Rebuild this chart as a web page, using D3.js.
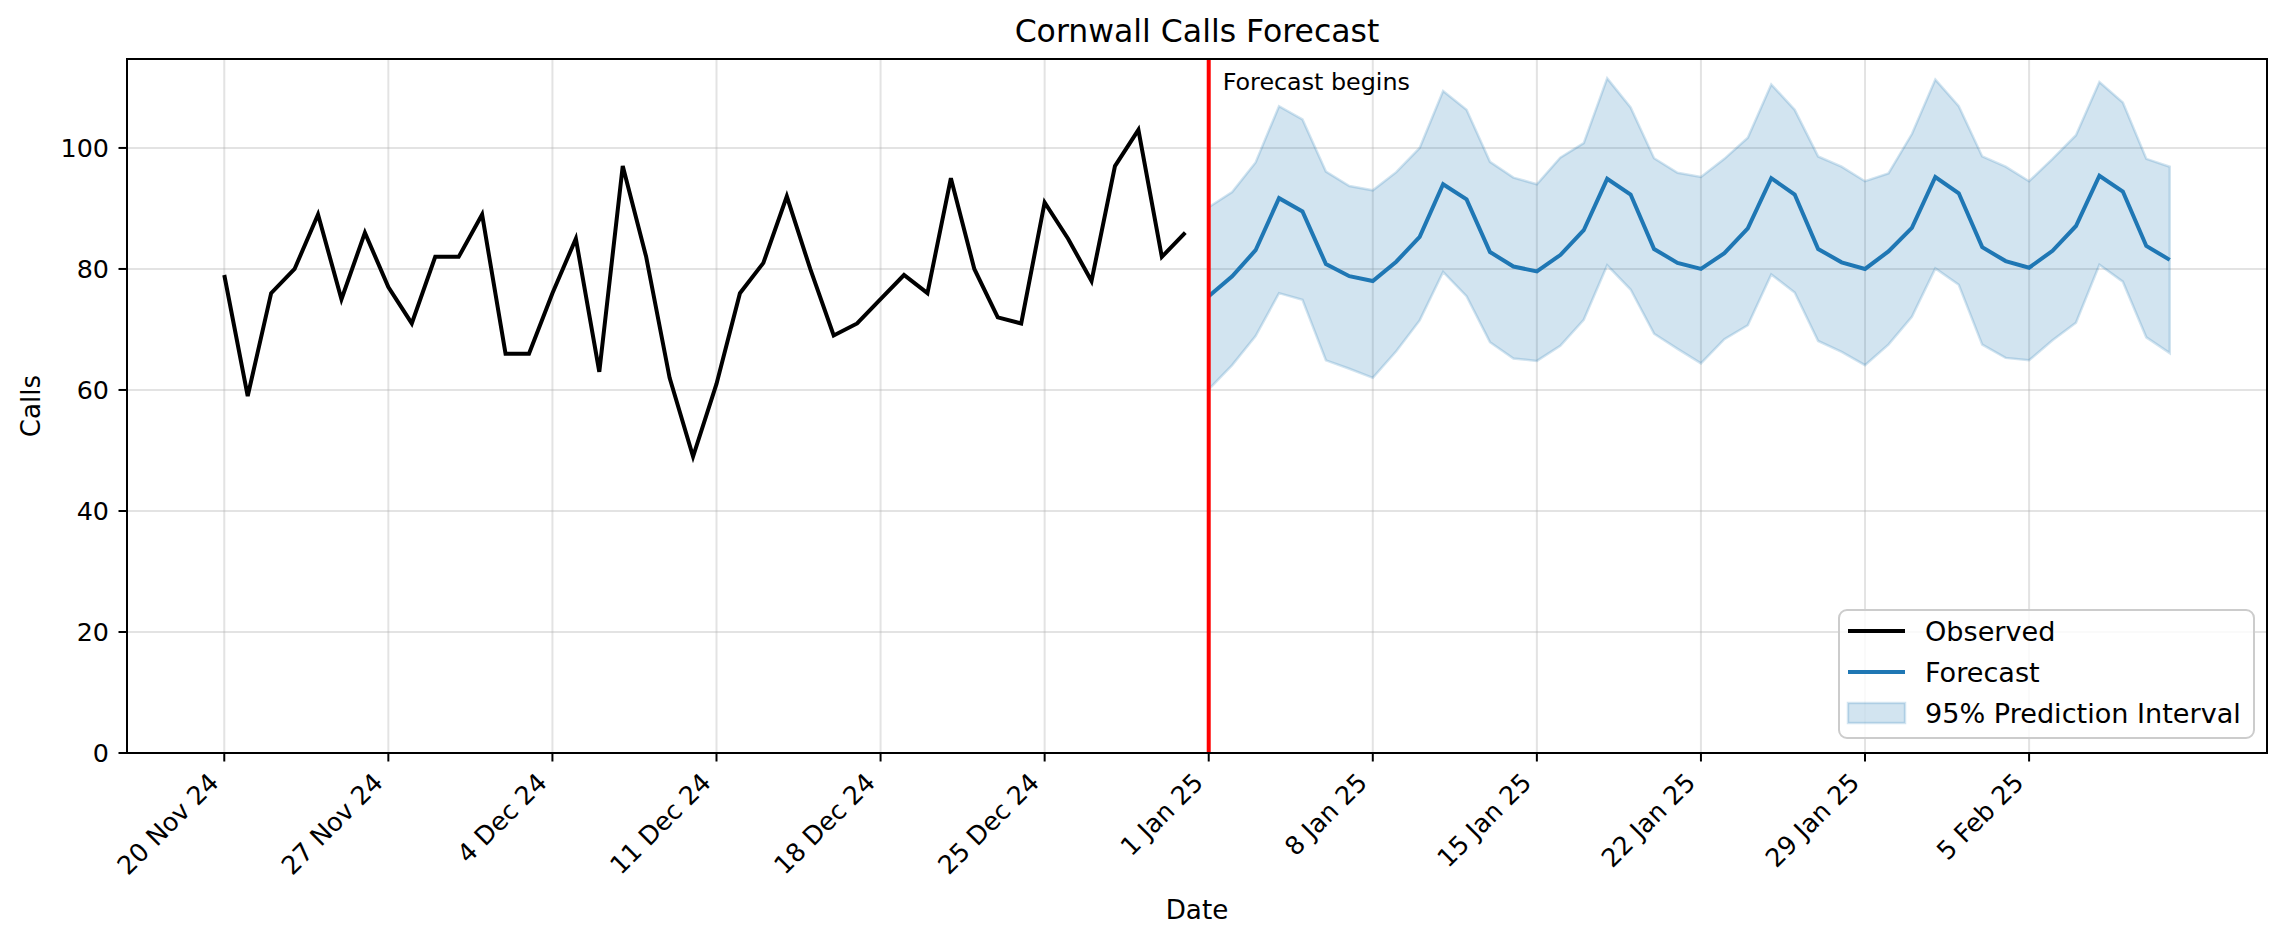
<!DOCTYPE html>
<html>
<head>
<meta charset="utf-8">
<script src="https://cdn.jsdelivr.net/npm/d3@7"></script>
<style>
  body { margin: 0; background: #fff; }
  svg { display: block; font-family: "DejaVu Sans", sans-serif; }
</style>
</head>
<body>
<svg id="chart" width="2286" height="945"></svg>
<script>
// observed daily calls, 20 Nov 2024 .. 31 Dec 2024
var observedStart = "2024-11-20";
var observed = [79, 59, 76, 80, 89, 75, 86, 77, 71, 82, 82, 89, 66, 66, 76, 85, 63, 97, 82, 62, 49,
                61, 76, 81, 92, 80, 69, 71, 75, 79, 76, 95, 80, 72, 71, 91, 85, 78, 97, 103, 82, 86];

// forecast, 1 Jan 2025 .. 11 Feb 2025
var forecastStart = "2025-01-01";
var forecast = [75.5, 78.8, 83.1, 91.7, 89.5, 80.8, 78.8, 78.0, 81.2, 85.3, 94.0, 91.5, 82.8, 80.4,
                79.6, 82.3, 86.4, 94.9, 92.3, 83.3, 81.0, 80.0, 82.6, 86.7, 95.0, 92.3, 83.3, 81.1,
                80.0, 82.9, 86.8, 95.2, 92.5, 83.6, 81.3, 80.2, 83.0, 87.1, 95.4, 92.8, 83.8, 81.5];
var upper = [90.2, 92.7, 97.6, 106.9, 104.7, 96.1, 93.7, 93.0, 96.0, 100.0, 109.4, 106.3, 97.7, 95.1,
             94.0, 98.4, 100.8, 111.5, 106.7, 98.3, 95.9, 95.2, 98.2, 101.7, 110.5, 106.3, 98.6, 96.9,
             94.5, 95.8, 102.3, 111.3, 106.9, 98.6, 96.9, 94.5, 98.2, 102.1, 110.9, 107.5, 98.2, 96.9];
var lower = [60.1, 64.1, 68.9, 76.0, 74.9, 64.9, 63.5, 62.0, 66.4, 71.5, 79.5, 75.5, 67.9, 65.2,
             64.8, 67.3, 71.6, 80.6, 76.6, 69.3, 66.8, 64.4, 68.4, 70.7, 79.1, 76.1, 68.1, 66.3,
             64.1, 67.5, 72.1, 80.1, 77.4, 67.5, 65.3, 64.9, 68.2, 71.1, 80.7, 77.9, 68.7, 66.1];

var yTicks = [0, 20, 40, 60, 80, 100];
var legendLabels = ["Observed", "Forecast", "95% Prediction Interval"];

var parse = d3.utcParse("%Y-%m-%d");
function days(start, n) {
    var s = parse(start);
    return d3.utcDay.range(s, d3.utcDay.offset(s, n));
}
var obsDates = days(observedStart, observed.length);
var fcDates = days(forecastStart, forecast.length);

var obsData = observed.map(function(v, i) { return { date: obsDates[i], value: v }; });
var fcData = forecast.map(function(v, i) {
    return { date: fcDates[i], value: v, lo: lower[i], hi: upper[i] };
});

var svg = d3.select("#chart"),
    axL = 127, axR = 2267, axT = 59, axB = 753;

var first = obsDates[0], last = fcDates[fcDates.length - 1];
var pad = (last - first) * 0.05;

var x = d3.scaleUtc()
    .domain([new Date(+first - pad), new Date(+last + pad)])
    .range([axL, axR]);
var y = d3.scaleLinear().domain([0, 114.7]).range([axB, axT]);

// weekly ticks from the first observed day
var xTicks = d3.utcDay.range(first, d3.utcDay.offset(last, 1), 7);
var fmt = d3.utcFormat("%-d %b %y");

// grid
var grid = svg.append("g").attr("stroke", "#b0b0b0").attr("stroke-opacity", 0.35).attr("stroke-width", 2);
grid.selectAll(".gx").data(xTicks).enter().append("line")
    .attr("x1", function(d) { return x(d); }).attr("x2", function(d) { return x(d); })
    .attr("y1", axT).attr("y2", axB);
grid.selectAll(".gy").data(yTicks).enter().append("line")
    .attr("x1", axL).attr("x2", axR)
    .attr("y1", function(d) { return y(d); }).attr("y2", function(d) { return y(d); });

// prediction band
var area = d3.area()
    .x(function(d) { return x(d.date); })
    .y0(function(d) { return y(d.lo); })
    .y1(function(d) { return y(d.hi); });
svg.append("path").datum(fcData)
    .attr("d", area)
    .attr("fill", "#1f77b4").attr("fill-opacity", 0.2)
    .attr("stroke", "#1f77b4").attr("stroke-opacity", 0.2).attr("stroke-width", 2.5);

var line = d3.line()
    .x(function(d) { return x(d.date); })
    .y(function(d) { return y(d.value); });

svg.append("path").datum(obsData)
    .attr("d", line).attr("fill", "none")
    .attr("stroke", "#000").attr("stroke-width", 4);

svg.append("path").datum(fcData)
    .attr("d", line).attr("fill", "none")
    .attr("stroke", "#1f77b4").attr("stroke-width", 4);

// forecast start marker
var fx = x(fcDates[0]);
svg.append("line")
    .attr("x1", fx).attr("x2", fx).attr("y1", axT).attr("y2", axB)
    .attr("stroke", "red").attr("stroke-width", 4);
svg.append("text")
    .attr("x", fx + 14).attr("y", 90)
    .attr("font-size", 23.8)
    .text("Forecast begins");

// spines
svg.append("rect")
    .attr("x", axL).attr("y", axT).attr("width", axR - axL).attr("height", axB - axT)
    .attr("fill", "none").attr("stroke", "#000").attr("stroke-width", 2);

// x axis ticks and labels
var xt = svg.append("g");
xt.selectAll("line").data(xTicks).enter().append("line")
    .attr("x1", function(d) { return x(d); }).attr("x2", function(d) { return x(d); })
    .attr("y1", axB).attr("y2", axB + 8.5)
    .attr("stroke", "#000").attr("stroke-width", 2);
xt.selectAll("text").data(xTicks).enter().append("text")
    .attr("transform", function(d) {
        return "translate(" + (x(d) - 4) + "," + (axB + 31) + ") rotate(-45)";
    })
    .attr("text-anchor", "end")
    .attr("font-size", 25.4)
    .text(fmt);

// y axis ticks and labels
var yt = svg.append("g");
yt.selectAll("line").data(yTicks).enter().append("line")
    .attr("x1", axL - 8.5).attr("x2", axL)
    .attr("y1", function(d) { return y(d); }).attr("y2", function(d) { return y(d); })
    .attr("stroke", "#000").attr("stroke-width", 2);
yt.selectAll("text").data(yTicks).enter().append("text")
    .attr("x", axL - 18).attr("y", function(d) { return y(d); })
    .attr("dy", "0.36em")
    .attr("text-anchor", "end")
    .attr("font-size", 25.4)
    .text(function(d) { return d; });

// axis labels + title
svg.append("text")
    .attr("x", (axL + axR) / 2).attr("y", 919)
    .attr("text-anchor", "middle").attr("font-size", 26.2)
    .text("Date");
svg.append("text")
    .attr("transform", "translate(40," + (axT + axB) / 2 + ") rotate(-90)")
    .attr("text-anchor", "middle").attr("font-size", 26.2)
    .text("Calls");
svg.append("text")
    .attr("x", (axL + axR) / 2).attr("y", 42)
    .attr("text-anchor", "middle").attr("font-size", 31.5)
    .text("Cornwall Calls Forecast");

// legend
var lg = svg.append("g").attr("transform", "translate(1839,610)");
lg.append("rect")
    .attr("width", 415).attr("height", 128).attr("rx", 8)
    .attr("fill", "#fff").attr("fill-opacity", 0.8)
    .attr("stroke", "#cccccc").attr("stroke-width", 2);
var rows = lg.selectAll(".row").data(legendLabels).enter().append("g")
    .attr("transform", function(d, i) { return "translate(0," + (21 + i * 41) + ")"; });
rows.filter(function(d, i) { return i < 2; }).append("line")
    .attr("x1", 9).attr("x2", 66).attr("y1", 0).attr("y2", 0)
    .attr("stroke", function(d, i) { return i === 0 ? "#000" : "#1f77b4"; })
    .attr("stroke-width", 4);
rows.filter(function(d, i) { return i === 2; }).append("rect")
    .attr("x", 9).attr("y", -10).attr("width", 57).attr("height", 20)
    .attr("fill", "#1f77b4").attr("fill-opacity", 0.2)
    .attr("stroke", "#1f77b4").attr("stroke-opacity", 0.2).attr("stroke-width", 2.5);
rows.append("text")
    .attr("x", 86).attr("y", 10.3)
    .attr("font-size", 27.1)
    .text(function(d) { return d; });
</script>
</body>
</html>
